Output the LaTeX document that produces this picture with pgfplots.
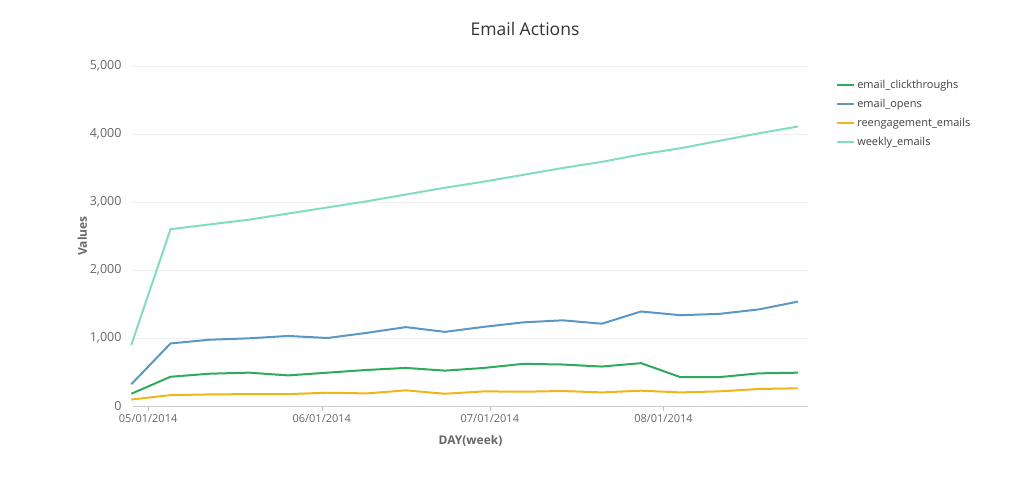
\documentclass[border=0pt]{standalone}
\usepackage{pgfplots}
\pgfplotsset{compat=1.18}
\usepackage{fontspec}
\setmainfont{Open Sans}
\definecolor{cg}{HTML}{2EAA5C}
\definecolor{cb}{HTML}{5B97C3}
\definecolor{cy}{HTML}{F0B51C}
\definecolor{ct}{HTML}{82DCC4}
\definecolor{tx}{HTML}{666666}
\begin{document}
\begin{tikzpicture}[x=1pt,y=1pt]
\path (0,0) rectangle (1031,478);
\node[font=\fontsize{17.5}{20}\selectfont, text=black!80] at (525,449) {Email Actions};
\begin{axis}[at={(133pt,72pt)},anchor=south west,scale only axis,width=675pt,height=340pt,
 xmin=-2.7,xmax=117.8,ymin=0,ymax=5000,
 xtick={0,31,61,92},xticklabels={05/01/2014,06/01/2014,07/01/2014,08/01/2014},
 ytick={0,1000,2000,3000,4000,5000},
 /pgf/number format/assume math mode=true,
 yticklabel style={font=\fontsize{12.5}{14}\selectfont, text=tx, xshift=-8pt},
 xticklabel style={font=\fontsize{11}{13}\selectfont, text=tx},
 ymajorgrids, grid style={black!6},
 axis x line*=bottom, axis y line*=left,
 x axis line style={black!20,-}, y axis line style={draw=none},
 xtick style={black!25}, ytick style={draw=none}, major tick length=5pt, xtick align=outside,
 scaled y ticks=false,
 y tick label style={/pgf/number format/1000 sep={,}},
 ylabel={Values}, ylabel style={font=\fontsize{12}{14}\selectfont\bfseries, text=tx, yshift=-4pt},
 xlabel={DAY(week)}, xlabel style={font=\fontsize{12}{14}\selectfont\bfseries, text=tx, yshift=-6pt},
 legend style={at={(1.037,0.97)},anchor=north west,draw=none,font=\fontsize{11}{13}\selectfont,text=black!75,row sep=5pt},
 legend cell align=left,
 every axis plot/.append style={line width=2pt, mark=none},
 clip=false,
]
\addplot[cg] coordinates {(-3,180)(4,430)(11,475)(18,490)(25,450)(32,490)(39,530)(46,560)(53,520)(60,560)(67,620)(74,610)(81,580)(88,630)(95,425)(102,425)(109,480)(116,490)};
\addplot[cb] coordinates {(-3,320)(4,920)(11,975)(18,995)(25,1030)(32,1000)(39,1075)(46,1160)(53,1090)(60,1165)(67,1230)(74,1260)(81,1210)(88,1390)(95,1335)(102,1355)(109,1420)(116,1535)};
\addplot[cy] coordinates {(-3,95)(4,160)(11,170)(18,175)(25,175)(32,195)(39,185)(46,230)(53,180)(60,215)(67,210)(74,220)(81,200)(88,225)(95,200)(102,215)(109,250)(116,260)};
\addplot[ct] coordinates {(-3,900)(4,2600)(11,2670)(18,2740)(25,2830)(32,2920)(39,3010)(46,3110)(53,3210)(60,3300)(67,3400)(74,3500)(81,3590)(88,3700)(95,3790)(102,3900)(109,4010)(116,4110)};
\legend{email\_clickthroughs,email\_opens,reengagement\_emails,weekly\_emails}
\end{axis}
\end{tikzpicture}
\end{document}
